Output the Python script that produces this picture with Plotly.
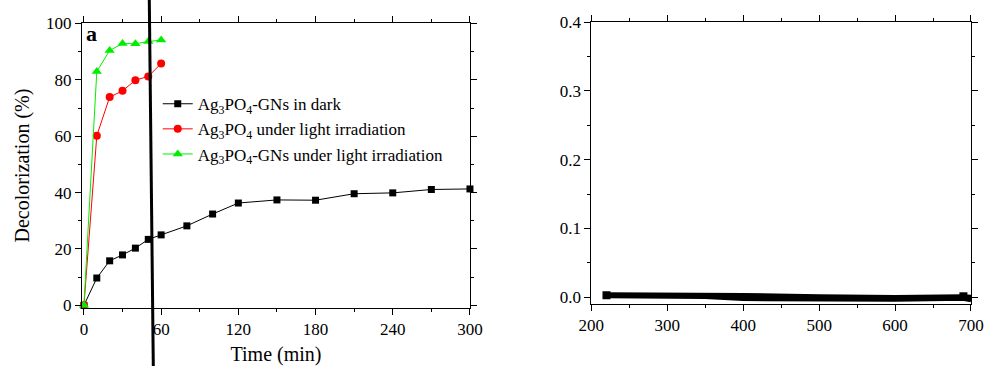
import plotly.graph_objects as go

# ---- Panel a data ----
time_dark = [0, 10, 20, 30, 40, 50, 60, 80, 100, 120, 150, 180, 210, 240, 270, 300]
dark = [0, 9.7, 15.8, 17.9, 20.3, 23.4, 25.0, 28.2, 32.4, 36.3, 37.4, 37.3, 39.6, 39.9, 41.1, 41.3]
time_light = [0, 10, 20, 30, 40, 50, 60]
ag3po4_light = [0, 60.2, 73.9, 76.1, 79.9, 81.2, 85.8]
gns_light = [0, 83.0, 90.4, 92.9, 92.8, 93.6, 94.1]

labels = ["Ag<sub>3</sub>PO<sub>4</sub>-GNs in dark",
          "Ag<sub>3</sub>PO<sub>4</sub> under light irradiation",
          "Ag<sub>3</sub>PO<sub>4</sub>-GNs under light irradiation"]

x_ticks_a = [0, 60, 120, 180, 240, 300]
y_ticks_a = [0, 20, 40, 60, 80, 100]

# ---- Right panel data (near-zero spectra) ----
wavelength = [220, 300, 350, 400, 500, 600, 690, 700]
spec1 = [0.0045, 0.0045, 0.004, 0.0035, 0.0015, 0.0005, 0.0015, 0.001]
spec2 = [0.003, 0.003, 0.002, 0.0, -0.001, -0.0015, -0.0005, -0.002]
spec3 = [0.0015, 0.0015, 0.0005, -0.0025, -0.0035, -0.0035, -0.002, -0.0045]
x_ticks_b = [200, 300, 400, 500, 600, 700]
y_ticks_b = [0, 0.1, 0.2, 0.3, 0.4]
y_ticktext_b = ["0.0", "0.1", "0.2", "0.3", "0.4"]

FONT = "Liberation Serif, Times New Roman, serif"
TICKFONT = dict(family=FONT, size=17, color="black")

fig = go.Figure()
fig.add_trace(go.Scatter(x=time_dark, y=dark, mode="lines+markers", name=labels[0],
                         line=dict(color="black", width=1),
                         marker=dict(symbol="square", size=7, color="black"),
                         xaxis="x", yaxis="y", cliponaxis=False))
fig.add_trace(go.Scatter(x=time_light, y=ag3po4_light, mode="lines+markers", name=labels[1],
                         line=dict(color="#ff0000", width=1),
                         marker=dict(symbol="circle", size=8, color="#ff0000"),
                         xaxis="x", yaxis="y", cliponaxis=False))
fig.add_trace(go.Scatter(x=time_light, y=gns_light, mode="lines+markers", name=labels[2],
                         line=dict(color="#00ee00", width=1),
                         marker=dict(symbol="triangle-up", size=9, color="#00ee00"),
                         xaxis="x", yaxis="y", cliponaxis=False))

for s in (spec1, spec2, spec3):
    fig.add_trace(go.Scatter(x=wavelength, y=s, mode="lines", showlegend=False,
                             line=dict(color="black", width=4),
                             xaxis="x2", yaxis="y2"))
fig.add_trace(go.Scatter(x=[wavelength[0], wavelength[-2]], y=[spec2[0], spec1[-2]],
                         mode="markers", showlegend=False,
                         marker=dict(symbol="square", size=8, color="black"),
                         xaxis="x2", yaxis="y2"))


def ax(**kw):
    d = dict(showline=True, linecolor="black", linewidth=1, mirror="ticks",
             ticks="outside", ticklen=6, tickwidth=1, tickcolor="black",
             showgrid=False, zeroline=False, automargin=False,
             tickfont=TICKFONT)
    d.update(kw)
    return d


fig.update_layout(
    width=985, height=366,
    margin=dict(l=82, r=14, t=22, b=58, autoexpand=False),
    plot_bgcolor="white", paper_bgcolor="white",
    font=dict(family=FONT, color="black", size=17),
    xaxis=ax(domain=[0, 0.4364], range=[-1.5, 300], tickvals=x_ticks_a,
             minor=dict(dtick=30, tick0=0, ticks="outside", ticklen=3, tickcolor="black"),
             title=dict(text="Time (min)", font=dict(family=FONT, size=20), standoff=10),
             anchor="y"),
    yaxis=ax(domain=[0.0014, 0.9948], range=[-0.8, 100], tickvals=y_ticks_a,
             minor=dict(dtick=10, tick0=0, ticks="outside", ticklen=3, tickcolor="black"),
             title=dict(text="Decolorization (%)", font=dict(family=FONT, size=20), standoff=11),
             anchor="x"),
    xaxis2=ax(domain=[0.5729, 1.0], range=[200, 700], tickvals=x_ticks_b,
              minor=dict(dtick=50, tick0=0, ticks="outside", ticklen=3, tickcolor="black"),
              anchor="y2"),
    yaxis2=ax(domain=[0.014, 1.0], range=[-0.0097, 0.4], tickvals=y_ticks_b,
              ticktext=y_ticktext_b,
              minor=dict(dtick=0.05, tick0=0, ticks="outside", ticklen=3, tickcolor="black"),
              anchor="x2"),
    legend=dict(x=0.0852, y=0.7755, xanchor="left", yanchor="top",
                bgcolor="rgba(0,0,0,0)", font=dict(family=FONT, size=17),
                tracegroupgap=0, itemwidth=30),
    showlegend=True,
)

fig.add_annotation(text="<b>a</b>", xref="x domain", yref="y domain", x=0.005, y=0.963,
                   xanchor="left", yanchor="middle", showarrow=False,
                   font=dict(family=FONT, size=22, color="black"))

# stray thick line crossing panel a (present in the reference image)
fig.add_shape(type="line", xref="paper", yref="paper",
              x0=0.0757, y0=1.0769, x1=0.0802, y1=-0.2028,
              line=dict(color="black", width=3))

fig.write_html("out.html",
               config={"displayModeBar": False},
               post_script="document.body.style.margin='0';document.body.style.overflow='hidden';")
